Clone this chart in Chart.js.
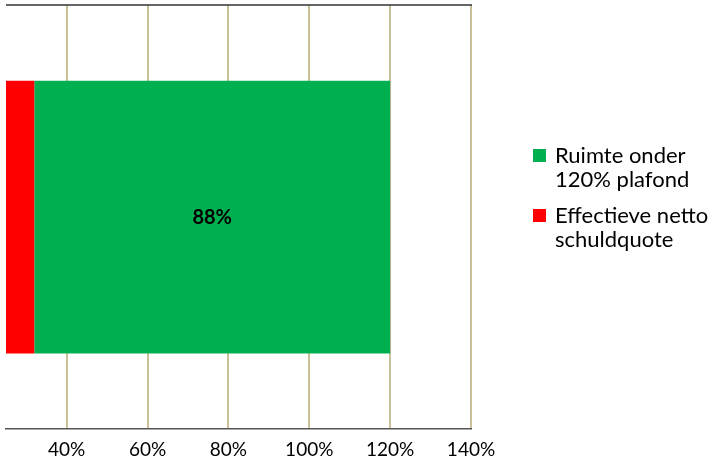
<!DOCTYPE html>
<html>
<head>
<meta charset="utf-8">
<script src="https://cdn.jsdelivr.net/npm/chart.js@4/dist/chart.umd.min.js"></script>
<style>
html,body{margin:0;padding:0;background:#fff;}
#wrap{position:relative;width:712px;height:464px;}
canvas{position:absolute;left:0;top:0;}
#legend{position:absolute;left:533px;top:143px;font-family:Lato,"Open Sans",sans-serif;font-size:22px;color:#000;line-height:23.5px;white-space:nowrap;}
.item{display:flex;align-items:flex-start;margin-bottom:13px;}
.sw{width:13px;height:13px;margin-top:6px;margin-right:9px;flex:none;}
</style>
</head>
<body>
<div id="wrap"><canvas id="c" width="712" height="464"></canvas><div id="legend"></div></div>
<script>
const categories = [""];
const seriesNames = ["Effectieve netto schuldquote", "Ruimte onder 120% plafond"];
const legendLines = [["Effectieve netto", "schuldquote"], ["Ruimte onder", "120% plafond"]];
const schuldquote = [32];
const ruimte = [88];
const tickValues = [40, 60, 80, 100, 120, 140];
const colors = ["#ff0000", "#00b050"];

const labelPlugin = {
  id: 'barLabel',
  afterDatasetsDraw(chart) {
    const ctx = chart.ctx;
    const meta = chart.getDatasetMeta(1);
    meta.data.forEach((bar, i) => {
      const cx = (bar.x + bar.base) / 2;
      ctx.save();
      ctx.font = 'bold 20px Lato, sans-serif';
      ctx.fillStyle = '#000';
      ctx.textAlign = 'center';
      ctx.textBaseline = 'middle';
      ctx.fillText(chart.data.datasets[1].data[i] + '%', cx, bar.y);
      ctx.restore();
    });
  },
  afterDraw(chart) {
    const a = chart.chartArea, ctx = chart.ctx;
    ctx.save();
    ctx.strokeStyle = '#333';
    ctx.lineWidth = 1.5;
    ctx.beginPath();
    ctx.moveTo(a.left, a.top);
    ctx.lineTo(a.right + 1, a.top);
    ctx.stroke();
    ctx.restore();
  }
};

new Chart(document.getElementById('c'), {
  type: 'bar',
  data: {
    labels: categories,
    datasets: [
      { label: seriesNames[0], data: schuldquote, backgroundColor: colors[0], borderWidth: 0 },
      { label: seriesNames[1], data: ruimte, backgroundColor: colors[1], borderWidth: 0 }
    ]
  },
  options: {
    indexAxis: 'y',
    responsive: false,
    animation: false,
    devicePixelRatio: 1,
    layout: { padding: { left: 6, right: 241, top: 5, bottom: -6 } },
    datasets: { bar: { barPercentage: 0.643, categoryPercentage: 1 } },
    plugins: { legend: { display: false }, tooltip: { enabled: false } },
    scales: {
      x: {
        stacked: true,
        min: 25,
        max: 140,
        afterBuildTicks(scale) { scale.ticks = tickValues.map(v => ({ value: v })); },
        grid: { color: '#c9bf98', lineWidth: 2, drawTicks: false },
        border: { display: true, color: '#555', width: 1.5 },
        ticks: {
          padding: 9,
          color: '#000',
          font: { family: 'Lato', size: 19 },
          callback: v => v + '%'
        }
      },
      y: {
        stacked: true,
        display: false
      }
    }
  },
  plugins: [labelPlugin]
});

const lg = document.getElementById('legend');
[1, 0].forEach(i => {
  const d = document.createElement('div');
  d.className = 'item';
  d.innerHTML = '<div class="sw" style="background:' + colors[i] + '"></div><div>' + legendLines[i].join('<br>') + '</div>';
  lg.appendChild(d);
});
</script>
</body>
</html>
